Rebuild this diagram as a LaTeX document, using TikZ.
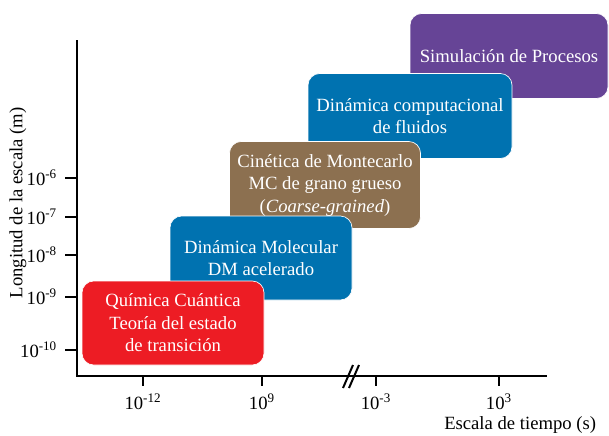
\documentclass[tikz,border=0pt]{standalone}
\usepackage{fontspec}
\setmainfont{Liberation Serif}
\usepackage{tikz}
\usetikzlibrary{shapes,positioning}

\definecolor{rojoqc}{RGB}{237,28,36}
\definecolor{azuldm}{RGB}{0,114,176}
\definecolor{cafemc}{RGB}{140,112,80}
\definecolor{moradosp}{RGB}{102,68,150}

\tikzset{
  caja/.style={draw=white,line width=0.4pt,rounded corners=7pt,text=white,align=center,
    font=\fontsize{11.2}{13.5}\selectfont},
  eje/.style={line width=1.2pt},
  marca/.style={line width=1.2pt},
  etiq/.style={font=\fontsize{11.2}{13}\selectfont}
}

\begin{document}
\begin{tikzpicture}[x=0.6pt,y=-0.6pt]
  \useasboundingbox (0,0) rectangle (609,435);

  % ejes
  \coordinate (o) at (77,376);
  \coordinate (ytop) at (77,40);
  \coordinate (xend) at (547,376);
  \draw[eje] (ytop) -- (o) -- (xend);

  % marcas verticales
  \foreach \y/\e in {178/-6,217/-7,255/-8,297/-9,350/-10}{
    \draw[marca] (65,\y) -- (77,\y);
    \node[etiq,anchor=east] at (63,\y) {10\textsuperscript{\e}};
  }

  % marcas horizontales
  \foreach \x/\e in {143/-12,262/9,376/-3,499/3}{
    \draw[marca] (\x,376) -- (\x,386);
    \node[etiq] at (\x,402) {10\textsuperscript{\e}};
  }

  % corte del eje
  \draw[marca] (343,388) -- (353,365);
  \draw[marca] (349,388) -- (359,365);

  \node[etiq,rotate=90] (ylab) at (18,203) {Longitud de la escala (m)};
  \node[etiq,anchor=east] (xlab) at (602,425) {Escala de tiempo (s)};

  % cajas
  \node[caja,fill=moradosp,minimum width=118.8pt,minimum height=51pt] (sp) at (509,56) {Simulaci\'on de Procesos};
  \node[caja,fill=azuldm,minimum width=122.4pt,minimum height=51pt] (cfd) at (410,116) {Din\'amica computacional\\de fluidos};
  \node[caja,fill=cafemc,minimum width=114.6pt,minimum height=52.2pt] (mc) at (325,185) {Cin\'etica de Montecarlo\\MC de grano grueso\\(\textit{Coarse-grained})};
  \node[caja,fill=azuldm,minimum width=109.2pt,minimum height=50.4pt] (dm) at (261,258) {Din\'amica Molecular\\DM acelerado};
  \node[caja,fill=rojoqc,minimum width=109.2pt,minimum height=50.4pt] (qc) at (173,323) {Qu\'imica Cu\'antica\\Teor\'ia del estado\\de transici\'on};
\end{tikzpicture}
\end{document}
